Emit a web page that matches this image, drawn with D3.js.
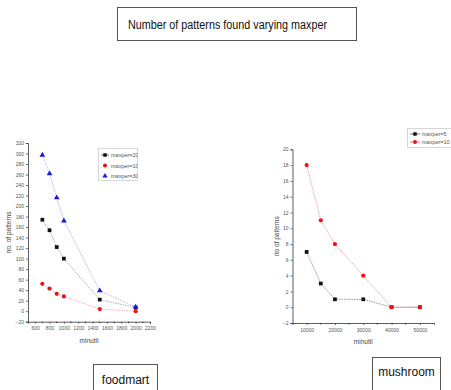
<!DOCTYPE html>
<html>
<head>
<meta charset="utf-8">
<script src="https://cdn.jsdelivr.net/npm/d3@7"></script>
<style>
  body { margin: 0; background: #fff; }
  svg { display: block; }
  text { font-family: "Liberation Sans", Arial, sans-serif; }
</style>
</head>
<body>
<svg width="451" height="390"></svg>
<script>
// foodmart
const foodX = [700, 800, 900, 1000, 1500, 2000];
const food100 = [52, 43, 33, 28, 4, 0];
const food200 = [174, 154, 122, 100, 22, 7];
const food300 = [297, 262, 216, 172, 39, 8];
const foodXTicks = [600, 800, 1000, 1200, 1400, 1600, 1800, 2000, 2200];
const foodYTicks = d3.range(-20, 321, 20);

// mushroom
const mushX = [10000, 15000, 20000, 30000, 40000, 50000];
const mush5 = [7, 3, 1, 1, 0, 0];
const mush10 = [18, 11, 8, 4, 0, 0];
const mushXTicks = [10000, 20000, 30000, 40000, 50000];
const mushYTicks = d3.range(-2, 21, 2);

const svg = d3.select('svg');
svg.append('rect').attr('width', 451).attr('height', 390).attr('fill', '#fff');

// title box
svg.append('rect').attr('x', 117.5).attr('y', 7.5).attr('width', 239).attr('height', 33)
  .attr('fill', 'none').attr('stroke', '#555');
svg.append('text').attr('x', 128).attr('y', 29).attr('font-size', 12.5)
  .attr('textLength', 199).attr('lengthAdjust', 'spacingAndGlyphs')
  .attr('fill', '#111').text('Number of patterns found varying  maxper');

function drawAxes(x, y, xTicks, yTicks, xMinor, yTitle, xTitle, yTitleX) {
  const g = svg.append('g');
  const xa = d3.axisBottom(x).tickValues(xTicks).tickSize(2).tickPadding(3).tickFormat(d3.format('d'));
  const ya = d3.axisLeft(y).tickValues(yTicks).tickSize(2).tickPadding(2).tickFormat(d3.format('d'));
  const gx = g.append('g').attr('transform', `translate(0,${y.range()[0]})`).call(xa);
  const gy = g.append('g').attr('transform', `translate(${x.range()[0]},0)`).call(ya);
  // minor ticks between the labelled ones
  g.append('g').attr('transform', `translate(0,${y.range()[0]})`)
    .selectAll('line').data(xMinor).join('line')
    .attr('x1', d => x(d)).attr('x2', d => x(d)).attr('y1', 0).attr('y2', 1.5).attr('stroke', '#333');
  [gx, gy].forEach(a => {
    a.select('.domain').attr('stroke', '#333').attr('stroke-width', 0.8);
    a.selectAll('.tick line').attr('stroke', '#333').attr('stroke-width', 0.7);
    a.selectAll('.tick text').attr('font-size', 5).attr('fill', '#555')
      .attr('font-family', '"Liberation Sans Narrow", "Liberation Sans", sans-serif');
  });
  const r = x.range(), yr = y.range();
  g.append('text').attr('transform', `translate(${yTitleX},${(yr[0] + yr[1]) / 2}) rotate(-90)`)
    .attr('text-anchor', 'middle').attr('font-size', 6.5).attr('fill', '#444').text(yTitle);
  g.append('text').attr('x', (r[0] + r[1]) / 2).attr('y', yr[0] + 21)
    .attr('text-anchor', 'middle').attr('font-size', 6.5).attr('fill', '#444').text(xTitle);
}

function series(x, y, xs, ys, color, lineColor, shape, size) {
  const line = d3.line().x((d, i) => x(xs[i])).y(d => y(d));
  svg.append('path').attr('d', line(ys)).attr('fill', 'none')
    .attr('stroke', lineColor).attr('stroke-width', 0.7).attr('stroke-dasharray', '1.5,1');
  svg.append('g').selectAll('path').data(ys).join('path')
    .attr('transform', (d, i) => `translate(${x(xs[i])},${y(d)})`)
    .attr('d', d3.symbol(shape, size)).attr('fill', color);
}

// left chart: foodmart
const fx = d3.scaleLinear().domain([500, 2200]).range([28, 150]);
const fy = d3.scaleLinear().domain([-20, 320]).range([321.7, 143]);
drawAxes(fx, fy, foodXTicks, foodYTicks, d3.range(700, 2200, 200), 'no. of patterns', 'minutil', 11);
series(fx, fy, foodX, food200, '#111', '#8a8aa8', d3.symbolSquare, 14);
series(fx, fy, foodX, food100, '#e11', '#ee9a9a', d3.symbolCircle, 14);
series(fx, fy, foodX, food300, '#1a1ae0', '#9a9aee', d3.symbolTriangle, 14);

// legend left (text clipped by its box, as in the source)
svg.append('clipPath').attr('id', 'legclip').append('rect')
  .attr('x', 98.5).attr('y', 148.5).attr('width', 39).attr('height', 32);
const lg = svg.append('g');
lg.append('rect').attr('x', 98.5).attr('y', 148.5).attr('width', 39).attr('height', 32)
  .attr('fill', '#fff').attr('stroke', '#bbb').attr('stroke-width', 0.6);
const lgIn = lg.append('g').attr('clip-path', 'url(#legclip)');
const leftLeg = [['maxper=200', '#111', d3.symbolSquare, true], ['maxper=100', '#e11', d3.symbolCircle, false], ['maxper=300', '#1a1ae0', d3.symbolTriangle, false]];
leftLeg.forEach((d, i) => {
  const yy = 155 + i * 10.5;
  if (d[3]) lgIn.append('line').attr('x1', 101).attr('x2', 109).attr('y1', yy).attr('y2', yy).attr('stroke', '#333').attr('stroke-width', 0.7);
  lgIn.append('path').attr('transform', `translate(105,${yy})`).attr('d', d3.symbol(d[2], 12)).attr('fill', d[1]);
  lgIn.append('text').attr('x', 111).attr('y', yy + 2).attr('font-size', 5.5).attr('fill', '#555').text(d[0]);
});

// right chart: mushroom
const mx = d3.scaleLinear().domain([5000, 55000]).range([292.5, 434]);
const my = d3.scaleLinear().domain([-2, 20]).range([323, 149.3]);
drawAxes(mx, my, mushXTicks, mushYTicks, [15000, 25000, 35000, 45000], 'no of patterns', 'minutil', 279);
series(mx, my, mushX, mush5, '#111', '#666', d3.symbolSquare, 14);
series(mx, my, mushX, mush10, '#e11', '#ee7777', d3.symbolCircle, 14);

// legend right
const rg = svg.append('g');
rg.append('rect').attr('x', 407.5).attr('y', 128.5).attr('width', 50).attr('height', 19)
  .attr('fill', '#fff').attr('stroke', '#bbb').attr('stroke-width', 0.6);
[['maxper=5', '#111', '#333', d3.symbolSquare], ['maxper=10', '#e11', '#e44', d3.symbolCircle]].forEach((d, i) => {
  const yy = 134 + i * 8;
  rg.append('line').attr('x1', 410).attr('x2', 420).attr('y1', yy).attr('y2', yy).attr('stroke', d[2]).attr('stroke-width', 0.7);
  rg.append('path').attr('transform', `translate(415,${yy})`).attr('d', d3.symbol(d[3], 12)).attr('fill', d[1]);
  rg.append('text').attr('x', 422).attr('y', yy + 2).attr('font-size', 5.5).attr('fill', '#555').text(d[0]);
});

// dataset labels
svg.append('rect').attr('x', 93.5).attr('y', 364.5).attr('width', 64).attr('height', 30)
  .attr('fill', 'none').attr('stroke', '#555');
svg.append('text').attr('x', 125.5).attr('y', 384).attr('text-anchor', 'middle')
  .attr('font-size', 12).attr('fill', '#111').text('foodmart');
svg.append('rect').attr('x', 372.5).attr('y', 357.5).attr('width', 68).attr('height', 40)
  .attr('fill', 'none').attr('stroke', '#555');
svg.append('text').attr('x', 406.5).attr('y', 376).attr('text-anchor', 'middle')
  .attr('font-size', 12).attr('fill', '#111').text('mushroom');
</script>
</body>
</html>
